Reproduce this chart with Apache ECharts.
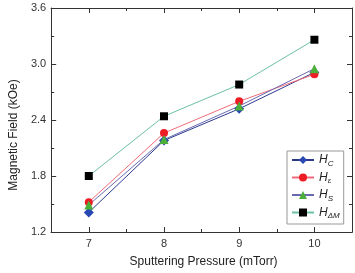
<!DOCTYPE html>
<html>
<head>
<meta charset="utf-8">
<script src="https://cdn.jsdelivr.net/npm/echarts@6/dist/echarts.min.js"></script>
<style>
  html, body { margin: 0; padding: 0; background: #fff; }
  #chart { width: 355px; height: 273px; }
</style>
</head>
<body>
<div id="chart"></div>
<script>
// sputtering pressure (mTorr)
const pressure = [7, 8, 9, 10];
// magnetic field values (kOe)
const hC = [1.41, 2.18, 2.52, 2.91];
const hE = [1.52, 2.26, 2.60, 2.89];
const hS = [1.49, 2.19, 2.55, 2.95];
const hDM = [1.80, 2.44, 2.78, 3.26];

const xMajor = [7, 8, 9, 10];
const xMinor = [7.5, 8.5, 9.5];

const subs = { Hc: 'C', He: 'ε', Hs: 'S', Hdm: 'ΔM' };

function pairs(ys) {
  return pressure.map((x, i) => [x, ys[i]]);
}

const chart = echarts.init(document.getElementById('chart'));

const axisLine = { show: true, lineStyle: { color: '#333', width: 1 } };
const font = 'Liberation Sans, Arial, sans-serif';

function xAxisDef(pos, ticks, len, labels) {
  return {
    type: 'value',
    position: pos,
    min: 6.5,
    max: 10.5,
    axisLine: axisLine,
    splitLine: { show: false },
    axisTick: { show: true, inside: true, length: len, customValues: ticks, lineStyle: { color: '#333' } },
    axisLabel: labels ? {
      show: true, customValues: xMajor, color: '#333', fontSize: 11, fontFamily: font, margin: 6
    } : { show: false },
    name: labels ? 'Sputtering Pressure (mTorr)' : '',
    nameLocation: 'middle',
    nameGap: 24,
    nameTextStyle: { color: '#222', fontSize: 12, fontFamily: font, padding: [0, 0, 0, 4] }
  };
}

function yAxisDef(pos, labels) {
  return {
    type: 'value',
    position: pos,
    min: 1.2,
    max: 3.6,
    interval: 0.6,
    axisLine: axisLine,
    splitLine: { show: false },
    axisTick: { show: true, inside: true, length: 5, lineStyle: { color: '#333' } },
    minorTick: { show: true, splitNumber: 2, length: 3, lineStyle: { color: '#333' } },
    axisLabel: labels ? {
      show: true, color: '#333', fontSize: 11, fontFamily: font, margin: 5,
      formatter: v => v.toFixed(1)
    } : { show: false },
    name: labels ? 'Magnetic Field (kOe)' : '',
    nameLocation: 'middle',
    nameGap: 21,
    nameTextStyle: { color: '#222', fontSize: 12, fontFamily: font, padding: [0, 30, 0, 0] }
  };
}

function lineSeries(name, ys, color, lineColor, symbol, size) {
  return {
    name: name,
    type: 'line',
    data: pairs(ys),
    symbol: symbol,
    symbolSize: size,
    itemStyle: { color: color },
    lineStyle: { color: lineColor, width: 1 },
    emphasis: { disabled: true }
  };
}

const options = {
  animation: false,
  grid: { left: 37, right: 3, top: 8, bottom: 35 },
  xAxis: [
    xAxisDef('bottom', xMajor, 5, true),
    xAxisDef('bottom', xMinor, 3, false),
    xAxisDef('top', xMajor, 5, false),
    xAxisDef('top', xMinor, 3, false)
  ],
  yAxis: [yAxisDef('left', true), yAxisDef('right', false)],
  legend: {
    orient: 'vertical',
    left: 287,
    top: 151,
    width: 61,
    padding: [3, 4, 4, 4],
    itemGap: 4,
    itemWidth: 22,
    itemHeight: 10,
    borderColor: '#999',
    borderWidth: 1,
    backgroundColor: '#fff',
    data: ['Hc', 'He', 'Hs', 'Hdm'],
    formatter: n => '{h|H}{s|' + subs[n] + '}',
    textStyle: {
      rich: {
        h: { fontStyle: 'italic', fontSize: 12, color: '#222', fontFamily: font },
        s: { fontStyle: 'italic', fontSize: 8, color: '#222', fontFamily: font, padding: [7, 0, 0, 0] }
      }
    }
  },
  series: [
    lineSeries('Hc', hC, '#2747b3', '#2c3a8c', 'diamond', 10),
    lineSeries('He', hE, '#ee1c25', '#f06b7a', 'circle', 8),
    lineSeries('Hs', hS, '#4caf3a', '#6a6ab0', 'triangle', 9),
    lineSeries('Hdm', hDM, '#000000', '#6cc0a0', 'rect', 8)
  ]
};

chart.setOption(options, true);
</script>
</body>
</html>
